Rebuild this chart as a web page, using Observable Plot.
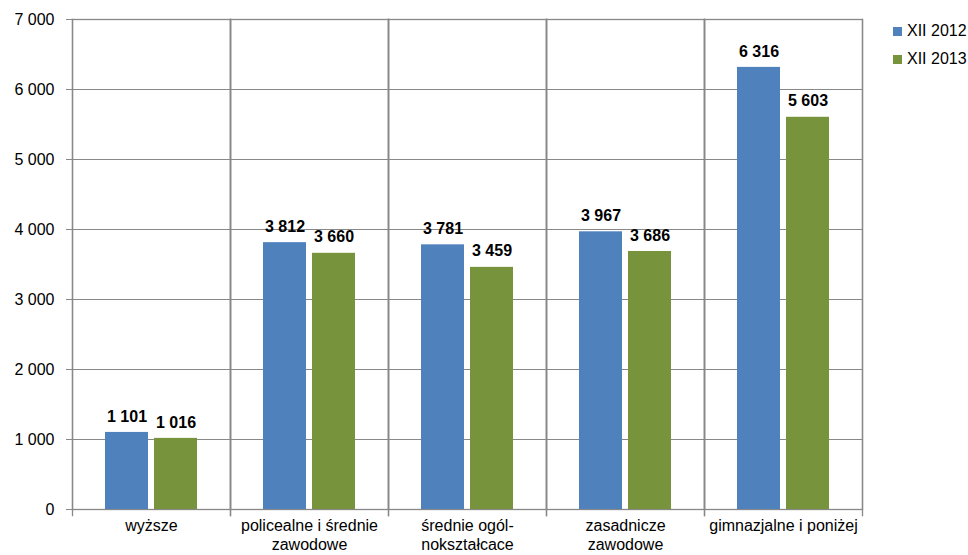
<!DOCTYPE html>
<html>
<head>
<meta charset="utf-8">
<script src="https://cdn.jsdelivr.net/npm/d3@7"></script>
<script src="https://cdn.jsdelivr.net/npm/@observablehq/plot@0.6"></script>
<style>
  body { margin: 0; background: #fff; font-family: "Liberation Sans", Arial, sans-serif; }
  #wrap { position: relative; width: 968px; height: 555px; }
  #legend { position: absolute; left: 893px; top: 17px; font-size: 16px; color: #000; }
  #legend .item { display: flex; align-items: center; height: 28px; }
  #legend .sw { width: 9px; height: 9px; margin-right: 5px; }
</style>
</head>
<body>
<div id="wrap">
  <div id="chart"></div>
  <div id="legend"></div>
</div>
<script>
const categories = ["wyższe", "policealne i średnie zawodowe", "średnie ogólnokształcace", "zasadnicze zawodowe", "gimnazjalne i poniżej"];
const tickLabels = ["wyższe", "policealne i średnie\nzawodowe", "średnie ogól-\nnokształcace", "zasadnicze\nzawodowe", "gimnazjalne i poniżej"];
const series = ["XII 2012", "XII 2013"];
const values2012 = [1101, 3812, 3781, 3967, 6316];
const values2013 = [1016, 3660, 3459, 3686, 5603];
const yTicks = [0, 1000, 2000, 3000, 4000, 5000, 6000, 7000];
const colors = ["#4F81BD", "#77933C"];

const rows = [];
categories.forEach((c, i) => {
  rows.push({category: c, series: series[0], value: values2012[i]});
  rows.push({category: c, series: series[1], value: values2013[i]});
});

const loc = d3.formatLocale({decimal: ",", thousands: "\u00a0", grouping: [3], currency: ["", ""]});
const fmt = loc.format(",d");

const chart = Plot.plot({
  width: 968,
  height: 555,
  marginLeft: 72,
  marginRight: 106,
  marginTop: 19,
  marginBottom: 46,
  style: {fontFamily: "'Liberation Sans', Arial, sans-serif", fontSize: "16px", color: "#000", background: "#fff", overflow: "visible"},
  facet: {data: rows, x: "category"},
  fx: {domain: categories, padding: 0, label: null},
  x: {domain: series, paddingInner: 0.122, paddingOuter: 0.673, axis: null},
  y: {domain: [0, 7000], label: null},
  color: {domain: series, range: colors},
  marks: [
    Plot.axisY(yTicks, {tickFormat: d => fmt(d), tickSize: 6, tickPadding: 12, stroke: "#888", fontSize: 16, label: null}),
    Plot.axisFx({anchor: "bottom", tickSize: 0, tickPadding: 8, lineHeight: 1.2, fontSize: 16, label: null,
                 tickFormat: d => tickLabels[categories.indexOf(d)]}),
    Plot.ruleY(yTicks, {stroke: "#888", strokeWidth: 1}),
    Plot.frame({stroke: "#888", strokeWidth: 1.3}),
    Plot.frame({anchor: "left", insetBottom: -6, stroke: "#888", strokeWidth: 1.3}),
    Plot.frame({anchor: "right", insetBottom: -6, stroke: "#888", strokeWidth: 1.3}),
    Plot.barY(rows, {x: "series", y: "value", fill: "series"}),
    Plot.text(rows, {x: "series", y: "value", text: d => fmt(d.value), dy: -16, fontWeight: "bold", fontSize: 16, fill: "#000"})
  ]
});
document.getElementById("chart").appendChild(chart);

const legend = document.getElementById("legend");
series.forEach((s, i) => {
  const it = document.createElement("div");
  it.className = "item";
  it.innerHTML = `<span class="sw" style="background:${colors[i]}"></span><span>${s}</span>`;
  legend.appendChild(it);
});
</script>
</body>
</html>
